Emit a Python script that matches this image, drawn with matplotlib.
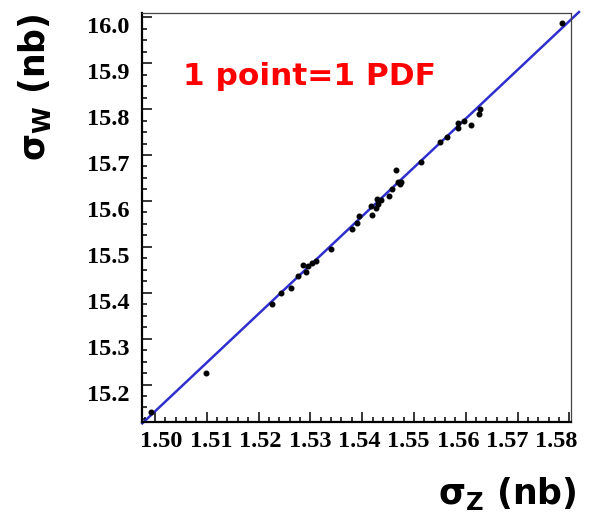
import numpy as np
import matplotlib
matplotlib.use('Agg')
from matplotlib import pyplot as plt
from matplotlib.ticker import MultipleLocator
import matplotlib.transforms as mtransforms

# one point per PDF set: (sigma_Z, sigma_W) in nb
sigma_z = [1.49929, 1.50991, 1.52253, 1.52433, 1.52626, 1.52755, 1.52858,
           1.52921, 1.52960, 1.53026, 1.53114, 1.53398, 1.53810, 1.53895,
           1.53933, 1.54171, 1.54196, 1.54262, 1.54287, 1.54312, 1.54364,
           1.54512, 1.54570, 1.54659, 1.54686, 1.54731, 1.54750, 1.55130,
           1.55509, 1.55638, 1.55856, 1.55856, 1.55966, 1.56102, 1.56262,
           1.56270, 1.57853]
sigma_w = [15.1394, 15.2244, 15.3747, 15.3987, 15.4102, 15.4370, 15.4610,
           15.4458, 15.4588, 15.4647, 15.4691, 15.4952, 15.5381, 15.5525,
           15.5671, 15.5882, 15.5699, 15.5845, 15.6048, 15.5932, 15.6020,
           15.6107, 15.6266, 15.6673, 15.6412, 15.6375, 15.6405, 15.6854,
           15.7277, 15.7399, 15.7582, 15.7704, 15.7741, 15.7654, 15.7900,
           15.8002, 15.9876]

# straight-line fit drawn over the points
fit_slope = 10.626
fit_intercept = -0.7975
fit_range = [1.49755, 1.58187]

x_ticks = [1.50, 1.51, 1.52, 1.53, 1.54, 1.55, 1.56, 1.57, 1.58]
y_ticks = [15.2, 15.3, 15.4, 15.5, 15.6, 15.7, 15.8, 15.9, 16.0]

fig = plt.figure(figsize=(5.9, 5.15), dpi=100)
ax = fig.add_axes([0.2412, 0.18, 0.7266, 0.7942])

fx = np.array(fit_range)
ax.plot(fx, fit_intercept + fit_slope*fx, color='#2f2fd0', lw=1.8,
        clip_on=False, zorder=2)
ax.plot(sigma_z, sigma_w, 'o', color='black', ms=3.3, zorder=3)

ax.set_xlim(1.49755, 1.58033)
ax.set_ylim(15.1177, 16.0087)
ax.set_xticks(x_ticks)
ax.set_yticks(y_ticks)
ax.set_xticklabels([])
ax.set_yticklabels(['%.1f' % t for t in y_ticks])
ax.xaxis.set_minor_locator(MultipleLocator(0.002))
ax.yaxis.set_minor_locator(MultipleLocator(0.025))

ax.tick_params(which='both', direction='in', top=False, right=False,
               color='black', width=1.1)
ax.tick_params(which='major', length=7.5)
ax.tick_params(which='minor', length=3.8)
ax.tick_params(axis='y', pad=9)
for lab in ax.get_yticklabels():
    lab.set_family('Liberation Serif')
    lab.set_weight('bold')
    lab.set_size(17.5)
plt.setp(ax.get_yticklabels(), va='top')

# x labels sit slightly squeezed toward the middle, as in the original
trans = mtransforms.blended_transform_factory(ax.transData, ax.transAxes)
for t in x_ticks:
    ax.text(1.50129 + (t - 1.5)*0.9534, -0.022, '%.2f' % t, transform=trans,
            ha='center', va='top', family='Liberation Serif',
            fontweight='bold', fontsize=17.5)

for s in ['left', 'bottom']:
    ax.spines[s].set_linewidth(1.6)
    ax.spines[s].set_color('black')
for s in ['top', 'right']:
    ax.spines[s].set_linewidth(0.9)
    ax.spines[s].set_color('#444444')

plt.rcParams['mathtext.fontset'] = 'dejavusans'
ax.text(0.095, 0.8247, '1 point=1 PDF', transform=ax.transAxes,
        color='#ff0000', fontsize=22.5, fontweight='bold',
        family='DejaVu Sans', ha='left', va='baseline')

fig.text(0.978, 0.041, r'$\mathbf{\sigma_Z}$ (nb)', fontsize=25,
         fontweight='bold', ha='right', va='center')
fig.text(0.058, 0.831, r'$\mathbf{\sigma_W}$ (nb)', fontsize=25,
         fontweight='bold', ha='center', va='center', rotation=90)

fig.savefig('out.png', dpi=100)
